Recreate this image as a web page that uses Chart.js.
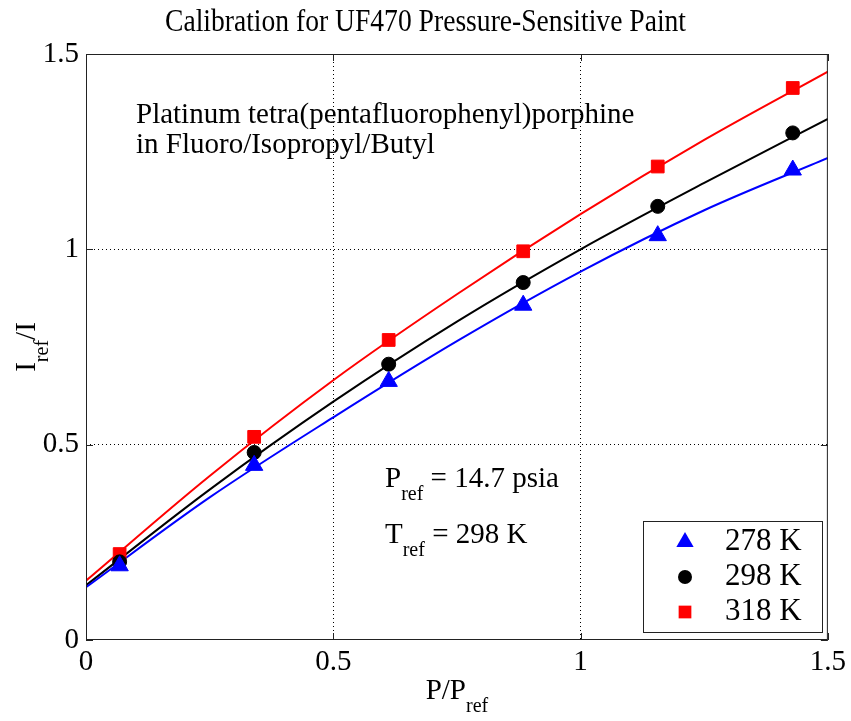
<!DOCTYPE html>
<html>
<head>
<meta charset="utf-8">
<script src="https://cdn.jsdelivr.net/npm/chart.js@4.4.0/dist/chart.umd.min.js"></script>
<style>
  html, body { margin: 0; padding: 0; background: #fff; }
</style>
</head>
<body>
<canvas id="pspChart" width="851" height="721"></canvas>
<script>
// values
const pressure = [0.068, 0.34, 0.612, 0.884, 1.156, 1.429];
const ratio278 = [0.19, 0.447, 0.662, 0.857, 1.035, 1.203];
const ratio298 = [0.20, 0.48, 0.706, 0.915, 1.11, 1.298];
const ratio318 = [0.22, 0.52, 0.768, 0.995, 1.212, 1.413];

// fitted curves, read at a few x positions
const fitX = [0, 0.25, 0.5, 0.75, 1.0, 1.25, 1.5];
const fit278 = [0.135, 0.365, 0.57, 0.765, 0.943, 1.1, 1.234];
const fit298 = [0.14, 0.385, 0.61, 0.815, 1.0, 1.17, 1.334];
const fit318 = [0.152, 0.42, 0.665, 0.885, 1.09, 1.28, 1.455];

const xTicks = [0, 0.5, 1, 1.5];
const yTicks = [0, 0.5, 1, 1.5];
const seriesLabels = ['278 K', '298 K', '318 K'];

const SERIF = '"Liberation Serif", "Times New Roman", serif';

function toPoints(xs, ys) {
    return xs.map((x, i) => ({x: x, y: ys[i]}));
}

function markerSet(label, ys, color, style, radius) {
    return {
        label: label,
        data: toPoints(pressure, ys),
        showLine: false,
        pointStyle: style,
        pointRadius: radius,
        pointBackgroundColor: color,
        pointBorderColor: color,
        pointBorderWidth: 1
    };
}

function curveSet(ys, color) {
    return {
        data: toPoints(fitX, ys),
        showLine: true,
        borderColor: color,
        borderWidth: 2,
        pointRadius: 0,
        cubicInterpolationMode: 'monotone'
    };
}

// text with subscripts, parts = [[text, isSub], ...]
function partsWidth(ctx, parts) {
    var w = 0;
    parts.forEach(p => {
        ctx.font = (p[1] ? 20 : 29) + 'px ' + SERIF;
        w += ctx.measureText(p[0]).width;
    });
    return w;
}
function drawParts(ctx, parts, x, y) {
    var cx = x;
    parts.forEach(p => {
        ctx.font = (p[1] ? 20 : 29) + 'px ' + SERIF;
        ctx.fillText(p[0], cx, p[1] ? y + 13 : y);
        cx += ctx.measureText(p[0]).width;
    });
}

function drawMarker(ctx, style, x, y, r, color) {
    ctx.fillStyle = color;
    ctx.beginPath();
    if (style == 'triangle') {
        ctx.moveTo(x, y - r);
        ctx.lineTo(x + r * 0.866, y + r / 2);
        ctx.lineTo(x - r * 0.866, y + r / 2);
        ctx.closePath();
    } else if (style == 'circle') {
        ctx.arc(x, y, r, 0, Math.PI * 2);
    } else {
        var s = r * Math.SQRT1_2;
        ctx.rect(x - s, y - s, 2 * s, 2 * s);
    }
    ctx.fill();
}

const decorations = {
    id: 'decorations',
    afterDraw(chart) {
        const ctx = chart.ctx;
        const a = chart.chartArea;
        const xs = chart.scales.x, ys = chart.scales.y;
        ctx.save();

        // axes box and inward ticks
        ctx.strokeStyle = '#222';
        ctx.lineWidth = 1;
        ctx.strokeRect(a.left + 0.5, a.top + 0.5, a.right - a.left - 1, a.bottom - a.top - 1);
        ctx.beginPath();
        xTicks.forEach(v => {
            var px = Math.round(xs.getPixelForValue(v)) + 0.5;
            ctx.moveTo(px, a.bottom); ctx.lineTo(px, a.bottom - 7);
            ctx.moveTo(px, a.top); ctx.lineTo(px, a.top + 7);
        });
        yTicks.forEach(v => {
            var py = Math.round(ys.getPixelForValue(v)) + 0.5;
            ctx.moveTo(a.left, py); ctx.lineTo(a.left + 7, py);
            ctx.moveTo(a.right, py); ctx.lineTo(a.right - 7, py);
        });
        ctx.stroke();

        ctx.fillStyle = '#000';
        ctx.textBaseline = 'alphabetic';
        ctx.textAlign = 'left';

        // title, condensed like the original
        var title = 'Calibration for UF470 Pressure-Sensitive Paint';
        ctx.font = '31px ' + SERIF;
        var tw = ctx.measureText(title).width;
        ctx.save();
        ctx.translate(165, 31);
        ctx.scale(521 / tw, 1);
        ctx.fillText(title, 0, 0);
        ctx.restore();

        // annotations
        ctx.font = '29px ' + SERIF;
        ctx.fillText('Platinum tetra(pentafluorophenyl)porphine', 136, 123);
        ctx.fillText('in Fluoro/Isopropyl/Butyl', 136, 153);
        drawParts(ctx, [['P', false], ['ref', true], [' = 14.7 psia', false]], 385, 487);
        drawParts(ctx, [['T', false], ['ref', true], [' = 298 K', false]], 385, 543);

        // x axis title
        var xt = [['P/P', false], ['ref', true]];
        drawParts(ctx, xt, (a.left + a.right) / 2 - partsWidth(ctx, xt) / 2, 699);

        // y axis title
        var yt = [['I', false], ['ref', true], ['/I', false]];
        ctx.save();
        ctx.translate(35, (a.top + a.bottom) / 2);
        ctx.rotate(-Math.PI / 2);
        drawParts(ctx, yt, -partsWidth(ctx, yt) / 2, 0);
        ctx.restore();

        // legend
        ctx.fillStyle = '#fff';
        ctx.fillRect(643, 521, 179, 111);
        ctx.strokeStyle = '#222';
        ctx.strokeRect(643.5, 521.5, 179, 111);
        const markers = chart.data.datasets.slice(0, 3);
        markers.forEach((ds, i) => {
            var cy = 542 + i * 35;
            drawMarker(ctx, ds.pointStyle, 685, cy, ds.pointRadius, ds.pointBackgroundColor);
            ctx.fillStyle = '#000';
            ctx.font = '31px ' + SERIF;
            ctx.textBaseline = 'middle';
            ctx.fillText(seriesLabels[i], 725, cy);
        });
        ctx.restore();
    }
};

function gridColor(c) {
    if (c.tick && (c.tick.value == 0 || c.tick.value == 1.5)) return 'rgba(0,0,0,0)';
    return '#000';
}

new Chart(document.getElementById('pspChart'), {
    type: 'scatter',
    data: {
        datasets: [
            markerSet(seriesLabels[0], ratio278, '#0000ff', 'triangle', 10),
            markerSet(seriesLabels[1], ratio298, '#000000', 'circle', 7),
            markerSet(seriesLabels[2], ratio318, '#ff0000', 'rect', 9),
            curveSet(fit278, '#0000ff'),
            curveSet(fit298, '#000000'),
            curveSet(fit318, '#ff0000')
        ]
    },
    options: {
        responsive: false,
        animation: false,
        devicePixelRatio: 1,
        layout: { padding: { left: 0, right: 21, top: 54, bottom: 0 }, autoPadding: false },
        plugins: { legend: { display: false }, tooltip: { enabled: false }, title: { display: false } },
        scales: {
            x: {
                type: 'linear', min: 0, max: 1.5,
                afterBuildTicks: s => { s.ticks = xTicks.map(v => ({value: v})); },
                afterFit: s => { s.height = 81; },
                ticks: {
                    font: { family: SERIF, size: 29 }, color: '#000', padding: 5,
                    maxRotation: 0, autoSkip: false, callback: v => String(v)
                },
                grid: { drawTicks: false, color: gridColor, lineWidth: 1 },
                border: { display: false, dash: [1, 3] }
            },
            y: {
                type: 'linear', min: 0, max: 1.5,
                afterBuildTicks: s => { s.ticks = yTicks.map(v => ({value: v})); },
                afterFit: s => { s.width = 86; },
                ticks: {
                    font: { family: SERIF, size: 29 }, color: '#000', padding: 7,
                    autoSkip: false, callback: v => String(v)
                },
                grid: { drawTicks: false, color: gridColor, lineWidth: 1 },
                border: { display: false, dash: [1, 3] }
            }
        }
    },
    plugins: [decorations]
});
</script>
</body>
</html>
